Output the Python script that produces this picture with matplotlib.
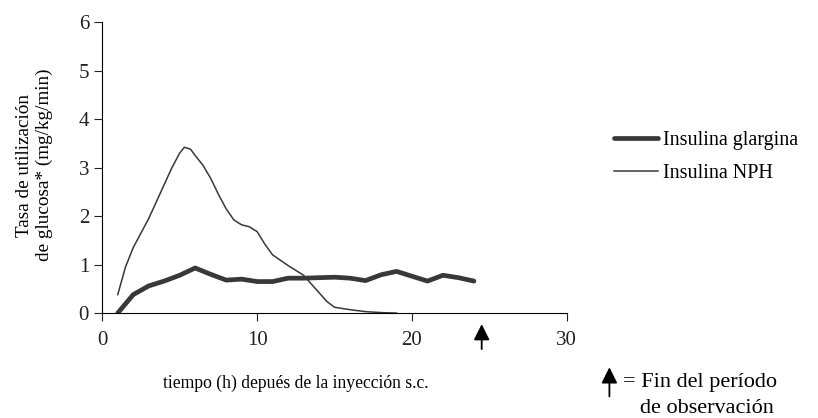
import matplotlib
matplotlib.use("Agg")
import matplotlib.pyplot as plt

# datos
horas_glargina = [1, 2, 3, 4, 5, 6, 7, 8, 9, 10, 11, 12, 13, 14, 15, 16, 17, 18, 19, 20, 21, 22, 23, 24]
glargina = [0.0, 0.38, 0.56, 0.66, 0.78, 0.93, 0.8, 0.68, 0.7, 0.65, 0.65, 0.72, 0.72, 0.73, 0.74, 0.72,
            0.67, 0.79, 0.86, 0.76, 0.66, 0.78, 0.73, 0.66]
horas_nph = [1, 1.5, 2, 2.5, 3, 3.5, 4, 4.5, 5, 5.3, 5.7, 6, 6.5, 7, 7.5, 8, 8.5, 9, 9.5, 10, 10.5, 11, 12, 13,
             13.5, 14, 14.5, 15, 16, 17, 18, 19]
nph = [0.38, 0.95, 1.35, 1.65, 1.95, 2.3, 2.65, 3.0, 3.3, 3.42, 3.38, 3.25, 3.05, 2.78, 2.45, 2.15, 1.92, 1.82,
       1.78, 1.68, 1.42, 1.2, 0.98, 0.78, 0.6, 0.42, 0.24, 0.12, 0.07, 0.03, 0.01, 0.0]
fin_observacion = 24.5

plt.rcParams['font.family'] = ['Liberation Serif', 'DejaVu Serif']

fig = plt.figure(figsize=(8.18, 4.18), dpi=100)
ax = fig.add_axes([0.125, 0.251, 0.568, 0.696])

ax.plot(horas_glargina, glargina, color='#383838', lw=3.4, label='Insulina glargina', solid_capstyle='round')
ax.plot(horas_nph, nph, color='#383838', lw=1.1, label='Insulina NPH')

ax.set_xlim(0, 30)
ax.set_ylim(0, 6)
ax.set_xticks([0, 10, 20, 30])
ax.set_yticks(range(7))
ax.spines['top'].set_visible(False)
ax.spines['right'].set_visible(False)
ax.tick_params(direction='out', length=6, labelsize=15, colors='#222222')
ax.tick_params(axis='x', pad=7)

# flecha del fin del período de observación
ax.annotate('', xy=(fin_observacion, -0.17), xytext=(fin_observacion, -0.8),
            xycoords='data', annotation_clip=False,
            arrowprops=dict(arrowstyle='-|>', color='black', lw=1.3, mutation_scale=24))

ax.legend(loc='upper left', bbox_to_anchor=(1.063, 0.69), frameon=False, fontsize=14.5,
          handlelength=2.15, handletextpad=0.25, labelspacing=0.7)

fig.text(0.042, 0.605, 'Tasa de utilización\nde glucosa* (mg/kg/min)', rotation=90,
         ha='center', va='center', fontsize=13.8, linespacing=1.25)
fig.text(0.362, 0.083, 'tiempo (h) depués de la inyección s.c.', ha='center', va='center', fontsize=12.7)

fig.add_artist(matplotlib.patches.FancyArrowPatch((0.745, 0.045), (0.745, 0.128),
               transform=fig.transFigure, arrowstyle='-|>', color='black', lw=1.3, mutation_scale=24))
fig.text(0.762, 0.085, '= Fin del período', ha='left', va='center', fontsize=16)
fig.text(0.782, 0.022, 'de observación', ha='left', va='center', fontsize=16)

fig.savefig('out.png', dpi=100)
